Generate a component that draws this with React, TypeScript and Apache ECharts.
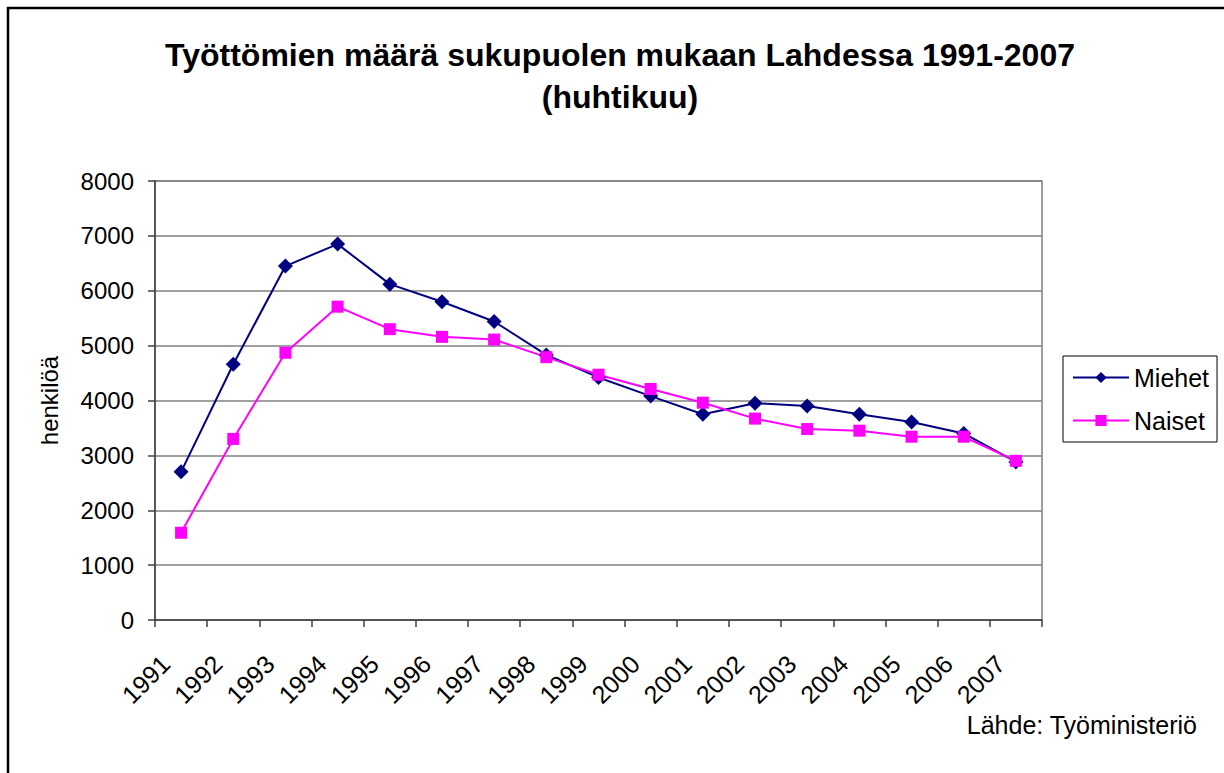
import React, { useEffect, useRef } from "react";
import * as echarts from "echarts";

const years = ["1991","1992","1993","1994","1995","1996","1997","1998","1999","2000","2001","2002","2003","2004","2005","2006","2007"];
const miehet = [2700, 4660, 6450, 6850, 6120, 5800, 5440, 4830, 4420, 4080, 3750, 3950, 3900, 3750, 3610, 3400, 2880];
const naiset = [1590, 3300, 4870, 5710, 5300, 5160, 5110, 4790, 4470, 4210, 3960, 3670, 3480, 3450, 3340, 3340, 2900];
const titleLines = ["Työttömien määrä sukupuolen mukaan Lahdessa 1991-2007", "(huhtikuu)"];
const yAxisName = "henkilöä";
const sourceText = "Lähde: Työministeriö";

const FONT = "'Liberation Sans', Arial, sans-serif";

export default function App() {
  const ref = useRef<HTMLDivElement>(null);
  useEffect(() => {
    if (!ref.current) return;
    const chart = echarts.init(ref.current, null, { renderer: "svg" });
    chart.setOption({
      animation: false,
      backgroundColor: "#ffffff",
      textStyle: { fontFamily: FONT },
      graphic: [
        {
          type: "rect",
          shape: { x: 8, y: 8, width: 1400, height: 1000 },
          style: { fill: "none", stroke: "#000", lineWidth: 2.5 },
          silent: true,
        },
        {
          type: "text",
          x: 620,
          y: 55,
          style: { text: titleLines[0], textAlign: "center", textVerticalAlign: "middle", font: `bold 32px ${FONT}`, fill: "#000" },
        },
        {
          type: "text",
          x: 620,
          y: 97,
          style: { text: titleLines[1], textAlign: "center", textVerticalAlign: "middle", font: `bold 32px ${FONT}`, fill: "#000" },
        },
        {
          type: "text",
          x: 1197,
          y: 725,
          style: { text: sourceText, textAlign: "right", textVerticalAlign: "middle", font: `25px ${FONT}`, fill: "#000" },
        },
      ],
      grid: {
        left: 155,
        top: 181,
        width: 887,
        height: 439,
        show: true,
        borderColor: "#808080",
        borderWidth: 1.5,
        containLabel: false,
      },
      legend: {
        orient: "vertical",
        left: 1063,
        top: 356,
        itemWidth: 56,
        itemHeight: 14,
        itemGap: 18,
        padding: [9, 8, 9, 9],
        borderColor: "#000",
        borderWidth: 1,
        backgroundColor: "#fff",
        textStyle: { fontSize: 25, color: "#000", fontFamily: FONT },
        data: ["Miehet", "Naiset"],
      },
      xAxis: {
        type: "category",
        data: years,
        boundaryGap: true,
        axisLine: { lineStyle: { color: "#404040", width: 1.5 } },
        axisTick: { show: true, length: 7, lineStyle: { color: "#404040", width: 1.5 } },
        axisLabel: {
          rotate: 45,
          fontSize: 25,
          color: "#000",
          fontFamily: FONT,
          margin: 24,
          padding: [0, 22, 0, 0],
          interval: 0,
        },
        splitLine: { show: false },
      },
      yAxis: {
        type: "value",
        min: 0,
        max: 8000,
        interval: 1000,
        name: yAxisName,
        nameLocation: "middle",
        nameGap: 94,
        nameTextStyle: { fontSize: 24, color: "#000", fontFamily: FONT },
        axisLine: { show: true, lineStyle: { color: "#404040", width: 1.5 } },
        axisTick: { show: true, length: 7, lineStyle: { color: "#404040", width: 1.5 } },
        axisLabel: {
          fontSize: 24,
          color: "#000",
          fontFamily: FONT,
          margin: 21,
          formatter: (v: number) => String(v),
        },
        splitLine: { show: true, lineStyle: { color: "#808080", width: 1.5 } },
      },
      series: [
        {
          name: "Miehet",
          type: "line",
          data: miehet,
          symbol: "diamond",
          symbolSize: 15,
          lineStyle: { color: "#000080", width: 2 },
          itemStyle: { color: "#000080" },
        },
        {
          name: "Naiset",
          type: "line",
          data: naiset,
          symbol: "rect",
          symbolSize: 12,
          lineStyle: { color: "#FF00FF", width: 2 },
          itemStyle: { color: "#FF00FF" },
        },
      ],
    });
    return () => chart.dispose();
  }, []);
  return (
    <div
      ref={ref}
      style={{ position: "absolute", left: 0, top: 0, width: 1224, height: 773, background: "#fff" }}
    />
  );
}
